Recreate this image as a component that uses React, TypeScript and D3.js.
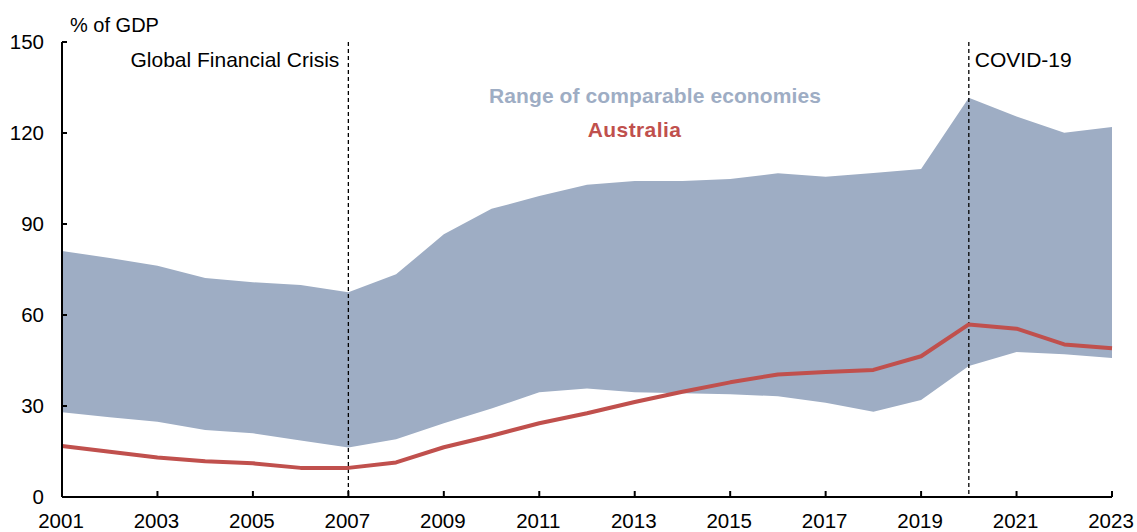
import React, { useEffect } from 'react';
import * as d3 from 'd3';

// Years and series (% of GDP)
const years = [2001, 2002, 2003, 2004, 2005, 2006, 2007, 2008, 2009, 2010, 2011, 2012, 2013, 2014, 2015, 2016, 2017, 2018, 2019, 2020, 2021, 2022, 2023];
const rangeHigh = [81.1, 78.8, 76.2, 72.2, 70.8, 69.9, 67.5, 73.4, 86.6, 95.0, 99.2, 102.9, 104.2, 104.2, 104.8, 106.7, 105.6, 106.8, 108.1, 131.6, 125.4, 120.1, 122.0];
const rangeLow = [27.9, 26.3, 24.8, 22.1, 21.0, 18.6, 16.3, 19.0, 24.3, 29.2, 34.5, 35.8, 34.5, 34.2, 33.9, 33.2, 31.1, 28.1, 32.0, 43.2, 47.8, 47.1, 45.8];
const australia = [16.8, 14.9, 13.0, 11.8, 11.1, 9.6, 9.6, 11.4, 16.4, 20.2, 24.3, 27.6, 31.3, 34.7, 37.8, 40.4, 41.2, 41.9, 46.4, 56.9, 55.5, 50.3, 49.0];
const yTicks = [0, 30, 60, 90, 120, 150];
const xTickYears = [2001, 2003, 2005, 2007, 2009, 2011, 2013, 2015, 2017, 2019, 2021, 2023];
const events = [
	{ year: 2007, label: 'Global Financial Crisis', side: 'left' },
	{ year: 2020, label: 'COVID-19', side: 'right' },
];

const W = 1137;
const H = 532;
const FONT = '"Liberation Sans", Arial, sans-serif';
const BAND = '#9eadc4';
const RED = '#c0504d';

export default function App() {
	useEffect(() => {
		document.body.style.margin = '0';
	}, []);

	const x = d3.scaleLinear().domain([2001, 2023]).range([62, 1112]);
	const y = d3.scaleLinear().domain([0, 150]).range([497, 42]);

	const rows = years.map((yr, i) => ({ yr, hi: rangeHigh[i], lo: rangeLow[i], au: australia[i] }));

	const area = d3
		.area<(typeof rows)[number]>()
		.x((d) => x(d.yr))
		.y0((d) => y(d.lo))
		.y1((d) => y(d.hi));

	const line = d3
		.line<(typeof rows)[number]>()
		.x((d) => x(d.yr))
		.y((d) => y(d.au));

	return (
		<svg width={W} height={H} style={{ display: 'block', fontFamily: FONT }}>
			<rect width={W} height={H} fill="white" />
			{/* range band */}
			<path d={area(rows) as string} fill={BAND} />
			{/* event lines */}
			{events.map((e) => (
				<line
					key={e.year}
					x1={x(e.year)}
					x2={x(e.year)}
					y1={y(150)}
					y2={y(0)}
					stroke="black"
					strokeWidth={1.3}
					strokeDasharray="4,3"
				/>
			))}
			{/* Australia */}
			<path d={line(rows) as string} fill="none" stroke={RED} strokeWidth={4} strokeLinejoin="round" />

			{/* axes */}
			<line x1={x(2001)} x2={x(2001)} y1={y(150)} y2={y(0)} stroke="black" strokeWidth={2} />
			<line x1={x(2001)} x2={x(2023)} y1={y(0)} y2={y(0)} stroke="black" strokeWidth={2} />
			{yTicks.map((t) => (
				<g key={t}>
					<line x1={x(2001)} x2={x(2001) + 5} y1={y(t)} y2={y(t)} stroke="black" strokeWidth={2} />
					<text x={44} y={y(t)} dy="0.36em" textAnchor="end" fontSize={20.5} fill="black">
						{t}
					</text>
				</g>
			))}
			{xTickYears.map((t) => (
				<g key={t}>
					<line x1={x(t)} x2={x(t)} y1={y(0)} y2={y(0) - 6} stroke="black" strokeWidth={2} />
					<text x={x(t) - 1} y={528} textAnchor="middle" fontSize={20.5} fill="black">
						{t}
					</text>
				</g>
			))}

			{/* labels */}
			<text x={70} y={32} fontSize={20} fill="black">
				% of GDP
			</text>
			{events.map((e) =>
				e.side === 'left' ? (
					<text key={e.label} x={x(e.year) - 9} y={67} textAnchor="end" fontSize={21} fill="black">
						{e.label}
					</text>
				) : (
					<text key={e.label} x={x(e.year) + 6} y={67} textAnchor="start" fontSize={21} fill="black">
						{e.label}
					</text>
				)
			)}
			<text x={655} y={103} textAnchor="middle" fontSize={21} fontWeight="bold" letterSpacing={0.1} fill={BAND}>
				Range of comparable economies
			</text>
			<text x={634.5} y={137} textAnchor="middle" fontSize={21} fontWeight="bold" letterSpacing={0.4} fill={RED}>
				Australia
			</text>
		</svg>
	);
}
